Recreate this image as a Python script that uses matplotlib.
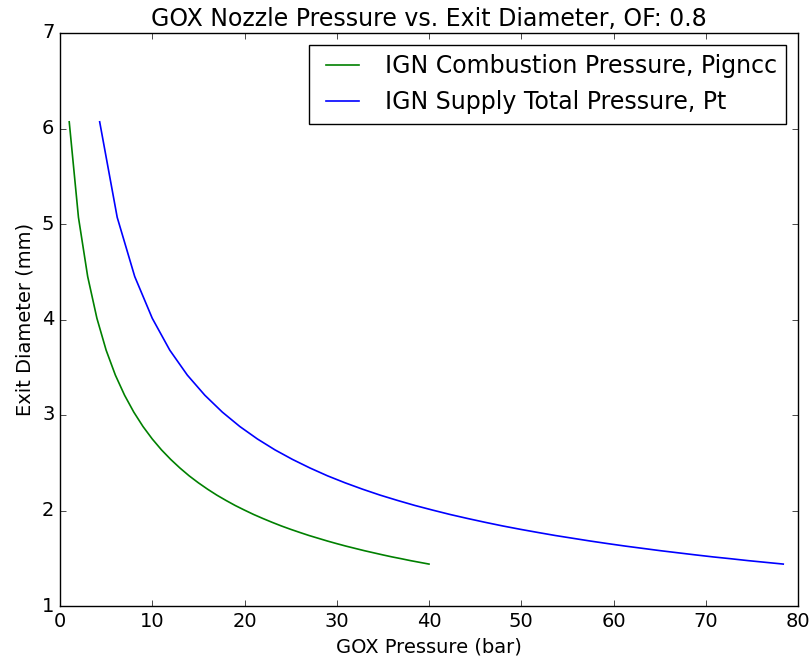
import numpy as np
import matplotlib
matplotlib.use("Agg")
import matplotlib.pyplot as plt

# combustion pressure (bar) and exit diameter (mm)
p_cc = [1, 2, 3, 4, 5, 6, 7, 8, 9, 10, 11, 12, 13, 14, 15, 16, 17, 18, 19, 20,
        21, 22, 23, 24, 25, 26, 27, 28, 29, 30, 31, 32, 33, 34, 35, 36, 37, 38, 39, 40]
p_t = [4.3, 6.2, 8.1, 10.0, 11.9, 13.8, 15.7, 17.6, 19.5, 21.4, 23.3, 25.2, 27.1, 29.0,
       30.9, 32.8, 34.7, 36.6, 38.5, 40.4, 42.3, 44.2, 46.1, 48.0, 49.9, 51.8, 53.7, 55.6,
       57.5, 59.4, 61.3, 63.2, 65.1, 67.0, 68.9, 70.8, 72.7, 74.6, 76.5, 78.4]
d_exit = [6.07, 5.07, 4.45, 4.013, 3.679, 3.418, 3.207, 3.030, 2.879, 2.749, 2.635, 2.535,
          2.445, 2.363, 2.290, 2.223, 2.161, 2.105, 2.052, 2.004, 1.958, 1.916, 1.876,
          1.838, 1.803, 1.770, 1.738, 1.709, 1.680, 1.653, 1.627, 1.603, 1.579, 1.557,
          1.535, 1.514, 1.495, 1.475, 1.457, 1.439]

plt.style.use("classic")
plt.rcParams["font.size"] = 14
fig = plt.figure(figsize=(8.1, 6.59), dpi=100, facecolor="white")
W, H = 810, 659
ax = fig.add_axes([60 / W, (H - 606) / H, 738 / W, 573 / H])

ax.plot(p_cc, d_exit, color="g", lw=1.2, label="IGN Combustion Pressure, Pigncc")
ax.plot(p_t, d_exit, color="b", lw=1.2, label="IGN Supply Total Pressure, Pt")
ax.set_xlim(0, 80); ax.set_ylim(1, 7)
ax.set_xlabel("GOX Pressure (bar)", fontsize=14)
ax.set_ylabel("Exit Diameter (mm)", fontsize=14)
ax.set_title("GOX Nozzle Pressure vs. Exit Diameter, OF: 0.8", fontsize=17)
ax.legend(loc="upper right", fontsize=17)

fig.savefig("out.png", dpi=100, facecolor="white")
